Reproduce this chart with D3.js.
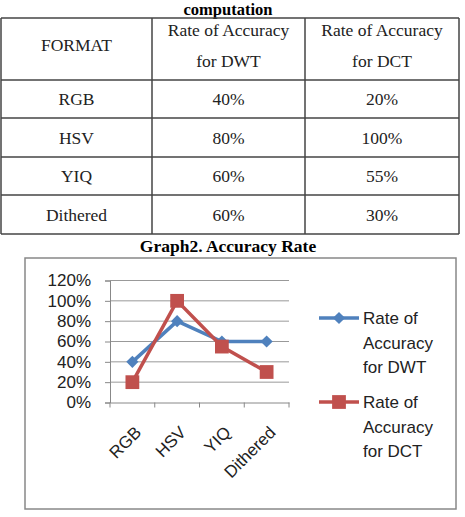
<!DOCTYPE html>
<html>
<head>
<meta charset="utf-8">
<script src="https://cdn.jsdelivr.net/npm/d3@7"></script>
<style>
  body { margin: 0; background: #fff; }
</style>
</head>
<body>
<div id="chart"></div>
<script>
// data
var formats = ["RGB", "HSV", "YIQ", "Dithered"]
var dwt = [40, 80, 60, 60]
var dct = [20, 100, 55, 30]
var headers = ["FORMAT", "Rate of Accuracy|for DWT", "Rate of Accuracy|for DCT"]
var seriesNames = ["Rate of|Accuracy|for DWT", "Rate of|Accuracy|for DCT"]
var yTicks = [0, 20, 40, 60, 80, 100, 120]

var width = 465
var height = 517

var svg = d3.select("#chart")
    .append("svg")
    .attr("width", width)
    .attr("height", height)

var serif = "'Liberation Serif', 'Times New Roman', serif"
var sans = "'Liberation Sans', Arial, sans-serif"

// top caption
svg.append("text")
    .attr("x", 228).attr("y", 15)
    .attr("text-anchor", "middle")
    .style("font-family", serif).style("font-weight", "bold").style("font-size", "16.5px")
    .text("computation")

// table
var colEdges = [1, 152, 305, 459]
var rowEdges = [18, 80, 118, 157, 195, 234]
var table = svg.append("g").attr("class", "table")

table.selectAll("line.h").data(rowEdges).enter().append("line")
    .attr("x1", colEdges[0]).attr("x2", colEdges[3])
    .attr("y1", function(d) { return d }).attr("y2", function(d) { return d })
    .attr("stroke", "#444").attr("stroke-width", 1.5)
table.selectAll("line.v").data(colEdges).enter().append("line")
    .attr("y1", rowEdges[0]).attr("y2", rowEdges[5])
    .attr("x1", function(d) { return d }).attr("x2", function(d) { return d })
    .attr("stroke", "#444").attr("stroke-width", 1.5)

var colMid = function(i) { return (colEdges[i] + colEdges[i + 1]) / 2 }

headers.forEach(function(h, i) {
  var parts = h.split("|")
  var t = table.append("text")
      .attr("text-anchor", "middle")
      .style("font-family", serif).style("font-size", "17.5px").style("fill", "#222")
  if (parts.length == 1) {
    t.attr("x", colMid(i)).attr("y", 51).text(parts[0])
  } else {
    t.append("tspan").attr("x", colMid(i)).attr("y", 36).text(parts[0])
    t.append("tspan").attr("x", colMid(i)).attr("y", 67).text(parts[1])
  }
})

formats.forEach(function(f, r) {
  var y = (rowEdges[r + 1] + rowEdges[r + 2]) / 2 + 6
  var vals = [f, dwt[r] + "%", dct[r] + "%"]
  vals.forEach(function(v, c) {
    table.append("text")
        .attr("x", colMid(c)).attr("y", y)
        .attr("text-anchor", "middle")
        .style("font-family", serif).style("font-size", "17.5px").style("fill", "#222")
        .text(v)
  })
})

// graph title
svg.append("text")
    .attr("x", 228).attr("y", 252)
    .attr("text-anchor", "middle")
    .style("font-family", serif).style("font-weight", "bold").style("font-size", "17.5px")
    .text("Graph2. Accuracy Rate")

// chart frame
svg.append("rect")
    .attr("x", 25).attr("y", 258)
    .attr("width", 431).attr("height", 251)
    .attr("fill", "none").attr("stroke", "#888").attr("stroke-width", 1.5)

var plot = {left: 110, right: 289, top: 280.5, bottom: 402.5}

var xScale = d3.scaleBand()
    .domain(formats)
    .range([plot.left, plot.right])

var yScale = d3.scaleLinear()
    .domain([0, 120])
    .range([plot.bottom, plot.top])

// gridlines
svg.append("g").selectAll("line")
    .data(yTicks.slice(1)).enter().append("line")
    .attr("x1", plot.left).attr("x2", plot.right)
    .attr("y1", function(d) { return yScale(d) }).attr("y2", function(d) { return yScale(d) })
    .attr("stroke", "#999").attr("stroke-width", 1)

// y axis
var yAxis = svg.append("g")
    .attr("transform", "translate(" + plot.left + ",0)")
    .call(d3.axisLeft(yScale).tickValues(yTicks).tickSize(5).tickPadding(14)
      .tickFormat(function(d) { return d + "%" }))
yAxis.selectAll("path, line").attr("stroke", "#888")
yAxis.selectAll("text")
    .style("font-family", sans).style("font-size", "17px").attr("fill", "#222")

// x axis
var xAxis = svg.append("g")
    .attr("transform", "translate(0," + plot.bottom + ")")
    .call(d3.axisBottom(xScale).tickSize(0).tickSizeOuter(0).tickPadding(0))
xAxis.select("path").attr("stroke", "#888")
xAxis.selectAll(".tick line").remove()
// boundary ticks between categories
var bounds = formats.map(function(f) { return xScale(f) }).concat([plot.right])
xAxis.selectAll("line.bound").data(bounds).enter().append("line")
    .attr("class", "bound")
    .attr("x1", function(d) { return d }).attr("x2", function(d) { return d })
    .attr("y1", 0).attr("y2", 5)
    .attr("stroke", "#888")
xAxis.selectAll(".tick text")
    .style("font-family", sans).style("font-size", "17px").attr("fill", "#222")
    .attr("text-anchor", "end")
    .attr("dy", 0)
    .attr("transform", "translate(10,31) rotate(-45)")

var cx = function(i) { return xScale(formats[i]) + xScale.bandwidth() / 2 }

var line = d3.line()
    .x(function(d, i) { return cx(i) })
    .y(function(d) { return yScale(d) })

var blue = "#4F81BD"
var red = "#C0504D"

svg.append("path").datum(dwt)
    .attr("d", line).attr("fill", "none")
    .attr("stroke", blue).attr("stroke-width", 3.5)
svg.append("path").datum(dct)
    .attr("d", line).attr("fill", "none")
    .attr("stroke", red).attr("stroke-width", 3.5)

var diamond = d3.symbol().type(d3.symbolDiamond2).size(95)
var square = d3.symbol().type(d3.symbolSquare).size(190)

svg.append("g").selectAll("path").data(dwt).enter().append("path")
    .attr("d", diamond)
    .attr("transform", function(d, i) { return "translate(" + cx(i) + "," + yScale(d) + ")" })
    .attr("fill", blue)
svg.append("g").selectAll("path").data(dct).enter().append("path")
    .attr("d", square)
    .attr("transform", function(d, i) { return "translate(" + cx(i) + "," + yScale(d) + ")" })
    .attr("fill", red)

// legend
var legendY = [318, 402]
var legendColors = [blue, red]
var legendSymbols = [diamond, square]
seriesNames.forEach(function(name, i) {
  var g = svg.append("g").attr("transform", "translate(319," + legendY[i] + ")")
  g.append("line").attr("x1", 0).attr("x2", 40).attr("y1", 0).attr("y2", 0)
      .attr("stroke", legendColors[i]).attr("stroke-width", 3.5)
  g.append("path").attr("d", legendSymbols[i]).attr("transform", "translate(20,0)")
      .attr("fill", legendColors[i])
  var t = g.append("text")
      .style("font-family", sans).style("font-size", "17px").attr("fill", "#222")
  name.split("|").forEach(function(p, k) {
    t.append("tspan").attr("x", 44).attr("y", k * 24.5 + 6).text(p)
  })
})
</script>
</body>
</html>
